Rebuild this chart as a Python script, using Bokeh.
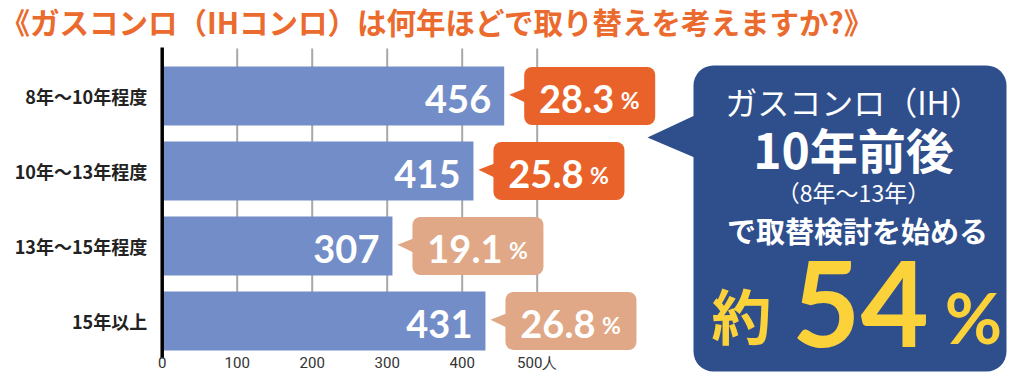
from bokeh.plotting import figure
from bokeh.models import Range1d, LinearAxis, FixedTicker
from bokeh.core.properties import value
from bokeh.embed import file_html
from bokeh.resources import INLINE

# ---------------- data ----------------
categories = ["8年～10年程度", "10年～13年程度", "13年～15年程度", "15年以上"]
counts = [456, 415, 307, 431]
percents = [28.3, 25.8, 19.1, 26.8]
x_ticks = [0, 100, 200, 300, 400, 500]
x_tick_labels = ["0", "100", "200", "300", "400", "500人"]
title_text = "《ガスコンロ（IHコンロ）は何年ほどで取り替えを考えますか?》"
summary_lines = ["ガスコンロ（IH）", "10年前後", "（8年～13年）", "で取替検討を始める"]
summary_big = ["約", "54", "%"]

# ---------------- styles ----------------
BAR = "#728DC8"
ORANGE = "#E9622A"
SALMON = "#E0A886"
NAVY = "#2E4E8C"
YELLOW = "#FCD23A"
TITLE_C = "#EB6A2D"
callout_colors = [ORANGE, ORANGE, SALMON, SALMON]
JP = "Noto Sans CJK JP"
NUM = "Lato"

W, H = 1008, 372
PX = 0.75          # screen px per person
X0 = 161.7         # px of x = 0
ROW = 75.0         # px between rows
Y0 = 95.5          # px of first row centre
n = len(categories)
ys = [n - 1 - i for i in range(n)]


def R(px):      # screen x -> data
    return (px - X0) / PX


def RY(py):     # screen y -> data
    return (n - 1) - (py - Y0) / ROW


p = figure(width=W, height=H, x_range=Range1d(R(0), R(W)), y_range=Range1d(RY(H), RY(0)),
           output_backend="svg", toolbar_location=None, min_border=0,
           x_axis_type=None, y_axis_type=None, outline_line_color=None)

# grid lines
p.segment(x0=x_ticks[1:], y0=RY(48), x1=x_ticks[1:], y1=RY(349), line_color="#a8a8a8", line_width=2)

# bars
p.hbar(y=ys, left=0, right=counts, height=59 / ROW, fill_color=BAR, line_color=None)

# axis line
p.segment(x0=0, y0=RY(47), x1=0, y1=RY(358), line_color="black", line_width=3.5)

# y axis labels
yaxis = LinearAxis(fixed_location=0, ticker=FixedTicker(ticks=ys),
                   major_label_overrides={y: c for y, c in zip(ys, categories)},
                   axis_line_color=None, major_tick_line_color=None, minor_tick_line_color=None,
                   major_label_standoff=9, major_label_text_font=JP,
                   major_label_text_font_size="18px", major_label_text_font_style="bold",
                   major_label_text_color="#222222")
p.add_layout(yaxis, "left")

# x axis labels
xaxis = LinearAxis(fixed_location=RY(345), ticker=FixedTicker(ticks=x_ticks),
                   major_label_overrides={t: l for t, l in zip(x_ticks, x_tick_labels)},
                   axis_line_color=None, major_tick_line_color=None, minor_tick_line_color=None,
                   major_label_standoff=2, major_label_text_font="Roboto",
                   major_label_text_font_size="15px", major_label_text_color="#333333")
p.add_layout(xaxis, "below")

# values inside bars
p.text(x=counts, y=ys, text=[str(c) for c in counts], x_offset=-13, y_offset=3,
       text_align="right", text_baseline="alphabetic", text_color="white",
       text_font=value(NUM), text_font_style="bold", text_font_size="38px")

# callouts
p.hbar(y=ys, left=[c + 20 / PX for c in counts], right=[c + 151 / PX for c in counts],
       height=58 / ROW, fill_color=callout_colors, line_color=None, border_radius=8)
tail_xs = [[c + 5 / PX, c + 21 / PX, c + 21 / PX] for c in counts]
tail_ys = [[y + 1.2 / ROW, y + 7.5 / ROW, y - 6.5 / ROW] for y in ys]
p.patches(xs=tail_xs, ys=tail_ys, fill_color=callout_colors, line_color=None)
p.text(x=counts, y=ys, text=[f"{v:.1f}" for v in percents], x_offset=110, y_offset=2.5,
       text_align="right", text_baseline="alphabetic", text_color="white",
       text_font=value(NUM), text_font_style="bold", text_font_size="38px")
p.text(x=counts, y=ys, text=["%"] * n, x_offset=126, y_offset=4.3,
       text_align="center", text_baseline="alphabetic", text_color="white",
       text_font=value(NUM), text_font_style="bold", text_font_size="23px")

# title
p.text(x=[R(0)], y=[RY(20)], text=[title_text], text_align="left", text_baseline="alphabetic",
       text_color=TITLE_C, text_font=value(JP), text_font_style="bold", text_font_size="29.5px")

# summary box
p.quad(left=R(693), right=R(1006), top=RY(65), bottom=RY(371), fill_color=NAVY,
       line_color=None, border_radius=20)
p.patch(x=[R(694), R(647), R(694)], y=[RY(115), RY(137), RY(157)], fill_color=NAVY, line_color=None)

cx = R(853)
p.text(x=[cx], y=[RY(100)], text=[summary_lines[0]], text_align="center", text_baseline="alphabetic",
       text_color="white", text_font=value(JP), text_font_size="32px")
p.text(x=[cx], y=[RY(147)], text=[summary_lines[1]], text_align="center", text_baseline="alphabetic",
       text_color="white", text_font=value(JP), text_font_style="bold", text_font_size="48px")
p.text(x=[cx], y=[RY(191)], text=[summary_lines[2]], text_align="center", text_baseline="alphabetic",
       text_color="white", text_font=value(JP), text_font_size="23px")
p.text(x=[R(857)], y=[RY(229)], text=[summary_lines[3]], text_align="center", text_baseline="alphabetic",
       text_color="white", text_font=value(JP), text_font_style="bold", text_font_size="29px")

p.text(x=[R(741)], y=[RY(313)], text=[summary_big[0]], text_align="center", text_baseline="alphabetic",
       text_color=YELLOW, text_font=value(JP), text_font_style="bold", text_font_size="60px")
p.text(x=[R(860)], y=[RY(303)], text=[summary_big[1]], text_align="center", text_baseline="alphabetic",
       text_color=YELLOW, text_font=value(NUM), text_font_style="bold", text_font_size="118px")
p.text(x=[R(973)], y=[RY(316)], text=[summary_big[2]], text_align="center", text_baseline="alphabetic",
       text_color=YELLOW, text_font=value(NUM), text_font_style="bold", text_font_size="70px")

open("out.html", "w").write(file_html(p, INLINE))
